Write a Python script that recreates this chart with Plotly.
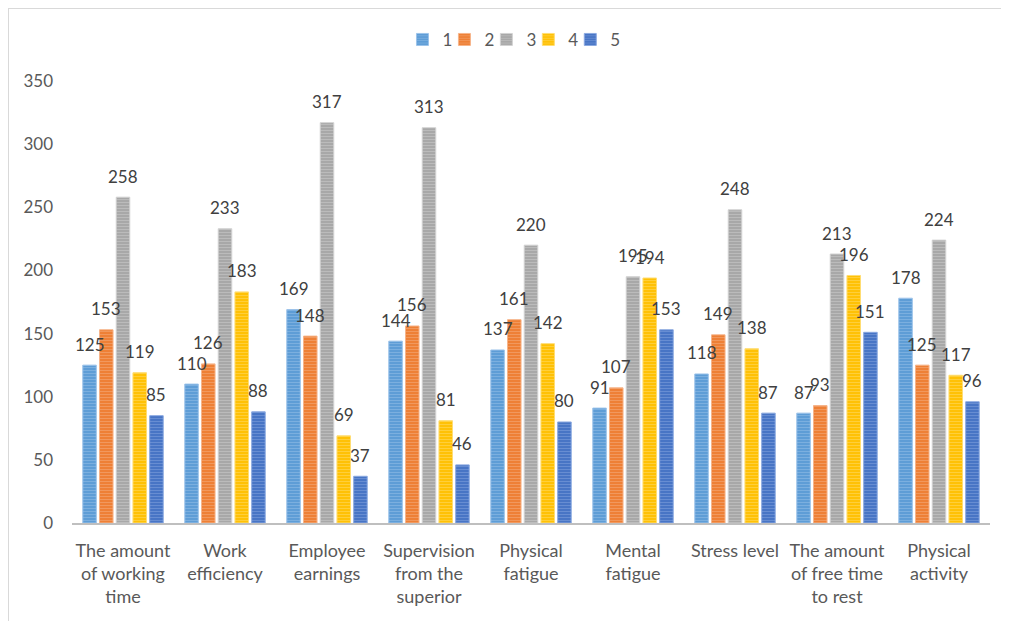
import plotly.graph_objects as go

categories = [
    "The amount<br>of working<br>time",
    "Work<br>efficiency",
    "Employee<br>earnings",
    "Supervision<br>from the<br>superior",
    "Physical<br>fatigue",
    "Mental<br>fatigue",
    "Stress level",
    "The amount<br>of free time<br>to rest",
    "Physical<br>activity",
]
series_names = ["1", "2", "3", "4", "5"]
s1 = [125, 110, 169, 144, 137, 91, 118, 87, 178]
s2 = [153, 126, 148, 156, 161, 107, 149, 93, 125]
s3 = [258, 233, 317, 313, 220, 195, 248, 213, 224]
s4 = [119, 183, 69, 81, 142, 194, 138, 196, 117]
s5 = [85, 88, 37, 46, 80, 153, 87, 151, 96]
series_values = [s1, s2, s3, s4, s5]
y_ticks = [0, 50, 100, 150, 200, 250, 300, 350]

colors = ["#5B9BD5", "#ED7D31", "#A5A5A5", "#FFC000", "#4472C4"]
light = ["#9CC3EA", "#F6B48A", "#D2D2D2", "#FFDD73", "#8AA8E0"]

FONT = "Lato"
BARGAP = 0.18
GROUPGAP = 0.19

# one small legend box per series, laid out in a row at the top
LEG_X0 = 0.360
LEG_STEP = 0.0457
legend_ids = ["legend"] + ["legend%d" % (k + 1) for k in range(1, len(series_names))]

fig = go.Figure()
for k, (name, vals) in enumerate(zip(series_names, series_values)):
    fig.add_trace(go.Bar(
        name=name, x=categories, y=vals,
        legend=legend_ids[k],
        marker=dict(
            color=colors[k],
            line=dict(width=1, color=light[k]),
            pattern=dict(shape="-", fgcolor=light[k], bgcolor=colors[k],
                         size=3, solidity=0.4, fillmode="overlay"),
        ),
        hoverinfo="x+y+name",
    ))

# data labels centred above each bar
slot = (1 - BARGAP) / len(series_names)
annotations = []
for k, vals in enumerate(series_values):
    off = -(1 - BARGAP) / 2 + slot * (k + 0.5)
    for i, v in enumerate(vals):
        annotations.append(dict(
            x=i + off, y=v, xref="x", yref="y", text=str(v),
            showarrow=False, yanchor="middle", yshift=21,
            font=dict(family=FONT, size=17, color="#404040"),
        ))

legend_layouts = {}
for k, lid in enumerate(legend_ids):
    legend_layouts[lid] = dict(
        orientation="h", x=LEG_X0 + LEG_STEP * k, xanchor="left",
        y=1.093, yanchor="middle",
        font=dict(family=FONT, size=17, color="#595959"),
        itemwidth=30, bgcolor="rgba(0,0,0,0)",
    )

fig.update_layout(
    width=1009, height=621,
    margin=dict(l=64, r=27, t=73, b=106),
    paper_bgcolor="white", plot_bgcolor="white",
    barmode="group", bargap=BARGAP, bargroupgap=GROUPGAP,
    font=dict(family=FONT, color="#595959"),
    showlegend=True,
    annotations=annotations,
    shapes=[dict(type="rect", xref="paper", yref="paper",
                 x0=-0.0697, x1=1.2, y0=-0.5, y1=1.165,
                 line=dict(color="#D9D9D9", width=2), fillcolor="rgba(0,0,0,0)",
                 layer="below")],
    **legend_layouts,
)
fig.update_xaxes(
    type="category", showgrid=False, showline=True, linecolor="#BFBFBF", linewidth=2,
    ticks="", tickfont=dict(family=FONT, size=18, color="#595959"),
    ticklabelstandoff=10,
)
fig.update_yaxes(
    range=[0, 350], tickvals=y_ticks, showgrid=False, showline=False, zeroline=False,
    ticks="", tickfont=dict(family=FONT, size=17, color="#595959"),
    ticklabelstandoff=18,
)

fig.write_html("out.html")
